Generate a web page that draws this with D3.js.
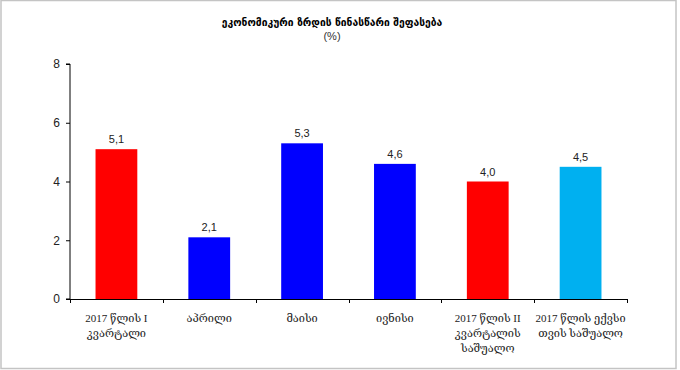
<!DOCTYPE html>
<html>
<head>
<meta charset="utf-8">
<script src="https://cdn.jsdelivr.net/npm/d3@7"></script>
<style>
  body { margin: 0; background: #fff; }
</style>
</head>
<body>
<script>
// data
const categories = [
  ["2017 წლის I", "კვარტალი"],
  ["აპრილი"],
  ["მაისი"],
  ["ივნისი"],
  ["2017 წლის II", "კვარტალის", "საშუალო"],
  ["2017 წლის ექვსი", "თვის საშუალო"]
];
const values = [5.1, 2.1, 5.3, 4.6, 4.0, 4.5];
const barColors = ["#ff0000", "#0000ff", "#0000ff", "#0000ff", "#ff0000", "#00b0f0"];
const yTicks = [0, 2, 4, 6, 8];

drawChart();

function drawChart() {
  const W = 680, H = 370;
  const left = 70, right = 627, top = 64, bottom = 299;

  const svg = d3.select("body").append("svg")
    .attr("width", W)
    .attr("height", H);

  // frame
  svg.append("rect")
    .attr("x", 1).attr("y", 0.5)
    .attr("width", 675).attr("height", 368)
    .attr("fill", "#fff")
    .attr("stroke", "#c4c4c4")
    .attr("stroke-width", 1.5);

  const ids = categories.map((c, i) => i);
  const x = d3.scaleBand()
    .domain(ids)
    .range([left, right])
    .paddingInner(0.55)
    .paddingOuter(0.275);

  const y = d3.scaleLinear()
    .domain([0, 8])
    .range([bottom, top]);

  // title
  svg.append("text")
    .attr("x", 332).attr("y", 26)
    .attr("text-anchor", "middle")
    .attr("font-family", "'DejaVu Sans', sans-serif")
    .attr("font-size", "10.3px")
    .attr("font-weight", "bold")
    .text("ეკონომიკური ზრდის წინასწარი შეფასება");

  svg.append("text")
    .attr("x", 332).attr("y", 40)
    .attr("text-anchor", "middle")
    .attr("font-family", "'Liberation Sans', Arial, sans-serif")
    .attr("font-size", "11px")
    .attr("fill", "#333")
    .text("(%)");

  // bars
  svg.selectAll("rect.bar")
    .data(values)
    .enter()
    .append("rect")
      .attr("class", "bar")
      .attr("x", (d, i) => x(i))
      .attr("y", d => y(d))
      .attr("width", x.bandwidth())
      .attr("height", d => y(0) - y(d))
      .attr("fill", (d, i) => barColors[i]);

  // value labels
  svg.selectAll("text.val")
    .data(values)
    .enter()
    .append("text")
      .attr("class", "val")
      .attr("x", (d, i) => x(i) + x.bandwidth() / 2)
      .attr("y", d => y(d) - 6)
      .attr("text-anchor", "middle")
      .attr("font-family", "'Liberation Sans', Arial, sans-serif")
      .attr("font-size", "11px")
      .attr("fill", "#222")
      .text(d => d.toFixed(1).replace(".", ","));

  // y axis
  const yAxis = d3.axisLeft(y)
    .tickValues(yTicks)
    .tickSize(4)
    .tickPadding(6)
    .tickFormat(d3.format("d"));

  const gy = svg.append("g")
    .attr("transform", `translate(${left},0)`)
    .call(yAxis);
  gy.select(".domain").attr("d", `M-4,${top}H0V${bottom}H-4`).attr("stroke", "#000");
  gy.selectAll("text")
    .attr("font-family", "'Liberation Sans', Arial, sans-serif")
    .attr("font-size", "12px")
    .attr("fill", "#222");

  // x axis, ticks sit on the category boundaries
  const gx = svg.append("g");
  gx.append("line")
    .attr("x1", left).attr("x2", right)
    .attr("y1", bottom + 0.5).attr("y2", bottom + 0.5)
    .attr("stroke", "#000");
  const boundary = i => Math.round(left + (right - left) * i / categories.length) + 0.5;
  gx.selectAll("line.tk")
    .data(d3.range(categories.length + 1))
    .enter()
    .append("line")
      .attr("class", "tk")
      .attr("x1", boundary)
      .attr("x2", boundary)
      .attr("y1", bottom)
      .attr("y2", bottom + 4)
      .attr("stroke", "#000");

  // category labels
  const lab = svg.selectAll("text.cat")
    .data(categories)
    .enter()
    .append("text")
      .attr("class", "cat")
      .attr("text-anchor", "middle")
      .attr("font-family", "'Liberation Serif', 'DejaVu Serif', serif")
      .attr("font-size", "11px")
      .attr("fill", "#222");
  lab.each(function(lines, i) {
    d3.select(this).selectAll("tspan")
      .data(lines)
      .enter()
      .append("tspan")
        .attr("x", x(i) + x.bandwidth() / 2)
        .attr("y", (d, j) => 322 + j * 15)
        .text(d => d);
  });
}
</script>
</body>
</html>
